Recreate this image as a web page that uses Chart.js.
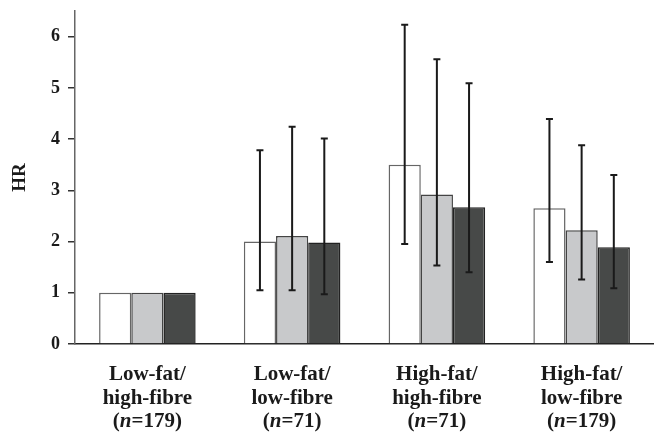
<!DOCTYPE html>
<html>
<head>
<meta charset="utf-8">
<script src="https://cdn.jsdelivr.net/npm/chart.js@4"></script>
<style>
  body { margin: 0; background: #fff; }
  canvas { display: block; }
</style>
</head>
<body>
<canvas id="chart" width="654" height="432"></canvas>
<script>
const categories = [
  ['Low-fat/', 'high-fibre', '179'],
  ['Low-fat/', 'low-fibre', '71'],
  ['High-fat/', 'high-fibre', '71'],
  ['High-fat/', 'low-fibre', '179']
]

const hr1 = [1, 2.00, 3.50, 2.65]
const lo1 = [null, 1.05, 1.95, 1.60]
const hi1 = [null, 3.78, 6.23, 4.39]

const hr2 = [1, 2.11, 2.92, 2.22]
const lo2 = [null, 1.05, 1.53, 1.26]
const hi2 = [null, 4.24, 5.56, 3.88]

const hr3 = [1, 1.98, 2.67, 1.89]
const lo3 = [null, 0.97, 1.40, 1.09]
const hi3 = [null, 4.01, 5.09, 3.30]

const yTicks = [0, 1, 2, 3, 4, 5, 6]

const serif = '"Liberation Serif", "Times New Roman", serif'

const errorBars = {
  id: 'errorBars',
  afterDatasetsDraw (chart) {
    const ctx = chart.ctx
    const y = chart.scales.y
    chart.data.datasets.forEach((ds, di) => {
      const meta = chart.getDatasetMeta(di)
      meta.data.forEach((bar, i) => {
        if (ds.lo[i] == null) return
        const top = y.getPixelForValue(ds.hi[i])
        const bot = y.getPixelForValue(ds.lo[i])
        ctx.save()
        ctx.strokeStyle = '#1a1a1a'
        ctx.lineWidth = 2
        ctx.beginPath()
        ctx.moveTo(bar.x, top)
        ctx.lineTo(bar.x, bot)
        ctx.moveTo(bar.x - 3.5, top)
        ctx.lineTo(bar.x + 3.5, top)
        ctx.moveTo(bar.x - 3.5, bot)
        ctx.lineTo(bar.x + 3.5, bot)
        ctx.stroke()
        ctx.restore()
      })
    })
  }
}

// category labels, with italic n
const groupLabels = {
  id: 'groupLabels',
  afterDraw (chart) {
    const ctx = chart.ctx
    const x = chart.scales.x
    const bold = 'bold 21px ' + serif
    const italic = 'italic bold 21px ' + serif
    ctx.save()
    ctx.fillStyle = '#1a1a1a'
    ctx.textBaseline = 'alphabetic'
    categories.forEach((lines, i) => {
      const cx = x.getPixelForValue(i)
      ctx.font = bold
      ctx.textAlign = 'center'
      ctx.fillText(lines[0], cx, 380)
      ctx.fillText(lines[1], cx, 404)
      const parts = [['(', bold], ['n', italic], ['=' + lines[2] + ')', bold]]
      let w = 0
      parts.forEach(p => { ctx.font = p[1]; w += ctx.measureText(p[0]).width })
      let px = cx - w / 2
      ctx.textAlign = 'left'
      parts.forEach(p => {
        ctx.font = p[1]
        ctx.fillText(p[0], px, 427)
        px += ctx.measureText(p[0]).width
      })
    })
    ctx.restore()
  }
}

new Chart(document.getElementById('chart'), {
  type: 'bar',
  data: {
    labels: categories.map(c => c.slice(0, 2).join(' ')),
    datasets: [
      { label: 'Model 1', data: hr1, lo: lo1, hi: hi1, backgroundColor: '#ffffff', borderColor: '#666666' },
      { label: 'Model 2', data: hr2, lo: lo2, hi: hi2, backgroundColor: '#c8c9cb', borderColor: '#444444' },
      { label: 'Model 3', data: hr3, lo: lo3, hi: hi3, backgroundColor: '#474948', borderColor: '#222222' }
    ].map(d => Object.assign(d, { borderWidth: 1.5, categoryPercentage: 0.667, barPercentage: 1 }))
  },
  options: {
    responsive: false,
    animation: false,
    devicePixelRatio: 1,
    layout: { padding: { top: 11, right: -3, left: 0, bottom: 0 } },
    plugins: {
      legend: { display: false },
      tooltip: { enabled: false }
    },
    scales: {
      x: {
        grid: { display: false },
        border: { display: true, color: '#222', width: 1.5 },
        ticks: { display: false },
        afterFit (scale) {
          scale.height = 88
          scale.paddingLeft = 0
          scale.paddingRight = 0
        }
      },
      y: {
        min: 0,
        max: 6.5,
        afterBuildTicks (scale) {
          scale.ticks = yTicks.map(v => ({ value: v }))
        },
        grid: { drawOnChartArea: false, drawTicks: true, tickLength: 7, color: '#333', lineWidth: 1.5 },
        border: { display: true, color: '#666', width: 1.5 },
        ticks: {
          padding: 8,
          color: '#1a1a1a',
          font: { family: serif, size: 18, weight: 'bold' }
        },
        title: {
          display: true,
          text: 'HR',
          color: '#1a1a1a',
          padding: { top: 9, bottom: 0 },
          font: { family: serif, size: 19, weight: 'bold' }
        },
        afterFit (scale) {
          scale.width = 75
          scale.paddingTop = 0
          scale.paddingBottom = 0
        }
      }
    }
  },
  plugins: [errorBars, groupLabels]
})
</script>
</body>
</html>
